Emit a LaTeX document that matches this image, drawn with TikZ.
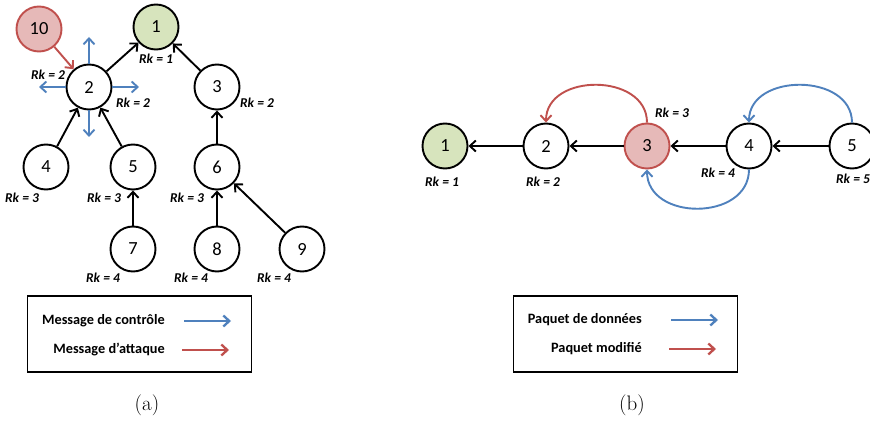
\documentclass[tikz,border=0pt]{standalone}
\usepackage{fontspec}
\newfontfamily\calfont{Carlito}
\usetikzlibrary{arrows.meta}
\definecolor{cblue}{HTML}{4F81BD}
\definecolor{cred}{HTML}{C0504D}
\definecolor{cpink}{HTML}{E6B9B8}
\definecolor{cgreen}{HTML}{D7E4BD}
\tikzset{
  nd/.style={circle, draw=black, line width=1.9pt, minimum size=45pt, inner sep=0pt, fill=white,
    font=\calfont\fontsize{18.5}{20}\selectfont},
  rk/.style={inner sep=0pt, font=\calfont\bfseries\itshape\fontsize{13.5}{15}\selectfont},
  leg/.style={inner sep=0pt, anchor=east, font=\calfont\bfseries\fontsize{14.3}{16}\selectfont},
  captxt/.style={inner sep=0pt, font=\fontsize{21}{25}\selectfont},
  arr/.style={line width=1.9pt, -{Straight Barb[length=6pt,width=11pt]}},
  blarr/.style={arr, draw=cblue},
  rdarr/.style={arr, draw=cred},
  legarr/.style={line width=2.3pt, -{Straight Barb[length=6pt,width=11pt]}},
  legbox/.style={draw=black, line width=1.4pt, minimum width=224pt, minimum height=76pt, inner sep=0pt},
}
\begin{document}
\begin{tikzpicture}[x=1pt,y=-1pt]
\clip (0,0) rectangle (870,422);
\fill[white] (0,0) rectangle (870,422);
% ---------- (a) ----------
\node[nd, fill=cpink, draw=cred] (n10) at (39,29) {10};
\node[nd, fill=cgreen] (n1) at (156,27) {1};
\node[nd] (n2) at (89,87) {2};
\node[nd] (n3) at (217,87) {3};
\node[nd] (n4) at (46,167) {4};
\node[nd] (n5) at (133,167) {5};
\node[nd] (n6) at (217,167) {6};
\node[nd] (n7) at (133,249) {7};
\node[nd] (n8) at (217,249) {8};
\node[nd] (n9) at (302,249) {9};

\node[rk] (ra1) at (156,59) {Rk = 1};
\node[rk] (ra2a) at (48,75) {Rk = 2};
\node[rk] (ra2b) at (133,103) {Rk = 2};
\node[rk] (ra3) at (257,103) {Rk = 2};
\node[rk] (ra4) at (22,198) {Rk = 3};
\node[rk] (ra5) at (104,198) {Rk = 3};
\node[rk] (ra6) at (187,198) {Rk = 3};
\node[rk] (ra7) at (103,278) {Rk = 4};
\node[rk] (ra8) at (191,278) {Rk = 4};
\node[rk] (ra9) at (274,278) {Rk = 4};

\draw[arr] (n2) -- (n1);
\draw[arr] (n3) -- (n1);
\draw[arr] (n4) -- (n2);
\draw[arr] (n5) -- (n2);
\draw[arr] (n6) -- (n3);
\draw[arr] (n7) -- (n5);
\draw[arr] (n8) -- (n6);
\draw[arr] (n9) -- (n6);
\draw[rdarr] (n10) -- (n2);

\coordinate (cu) at (89,37);
\coordinate (cl) at (39,87);
\coordinate (cr) at (139,87);
\coordinate (cd) at (89,137);
\draw[blarr] (n2.north) -- (cu);
\draw[blarr] (n2.west) -- (cl);
\draw[blarr] (n2.east) -- (cr);
\draw[blarr] (n2.south) -- (cd);

\node[legbox] (boxa) at (139.5,334) {};
\node[leg] (la1) at (165,321) {Message de contrôle};
\node[leg] (la2) at (165,350) {Message d’attaque};
\coordinate (a1s) at (184,321); \coordinate (a1e) at (231,321);
\coordinate (a2s) at (182,350); \coordinate (a2e) at (229,350);
\draw[legarr, draw=cblue] (a1s) -- (a1e);
\draw[legarr, draw=cred] (a2s) -- (a2e);
\node[captxt] (capa) at (147,405) {(a)};

% ---------- (b) ----------
\node[nd, fill=cgreen] (m1) at (445,146) {1};
\node[nd] (m2) at (546,146) {2};
\node[nd, fill=cpink, draw=cred] (m3) at (647,146) {3};
\node[nd] (m4) at (749,146) {4};
\node[nd] (m5) at (852,146) {5};

\node[rk] (rb1) at (442,182) {Rk = 1};
\node[rk] (rb2) at (543,182) {Rk = 2};
\node[rk] (rb3) at (672,113) {Rk = 3};
\node[rk] (rb4) at (718,173) {Rk = 4};
\node[rk] (rb5) at (853,179) {Rk = 5};

\draw[arr] (m2) -- (m1);
\draw[arr] (m3) -- (m2);
\draw[arr] (m4) -- (m3);
\draw[arr] (m5) -- (m4);

\draw[rdarr] (m3.north) .. controls +(0,-50) and +(0,-50) .. (m2.north);
\draw[blarr] (m5.north) .. controls +(0,-50) and +(0,-50) .. (m4.north);
\draw[blarr] (m4.south) .. controls +(0,52) and +(0,52) .. (m3.south);

\node[legbox] (boxb) at (625.5,334) {};
\node[leg] (lb1) at (642,320) {Paquet de données};
\node[leg] (lb2) at (642,349) {Paquet modifié};
\coordinate (b1s) at (671,320); \coordinate (b1e) at (718,320);
\coordinate (b2s) at (669,349); \coordinate (b2e) at (716,349);
\draw[legarr, draw=cblue] (b1s) -- (b1e);
\draw[legarr, draw=cred] (b2s) -- (b2e);
\node[captxt] (capb) at (632,405) {(b)};
\end{tikzpicture}
\end{document}
